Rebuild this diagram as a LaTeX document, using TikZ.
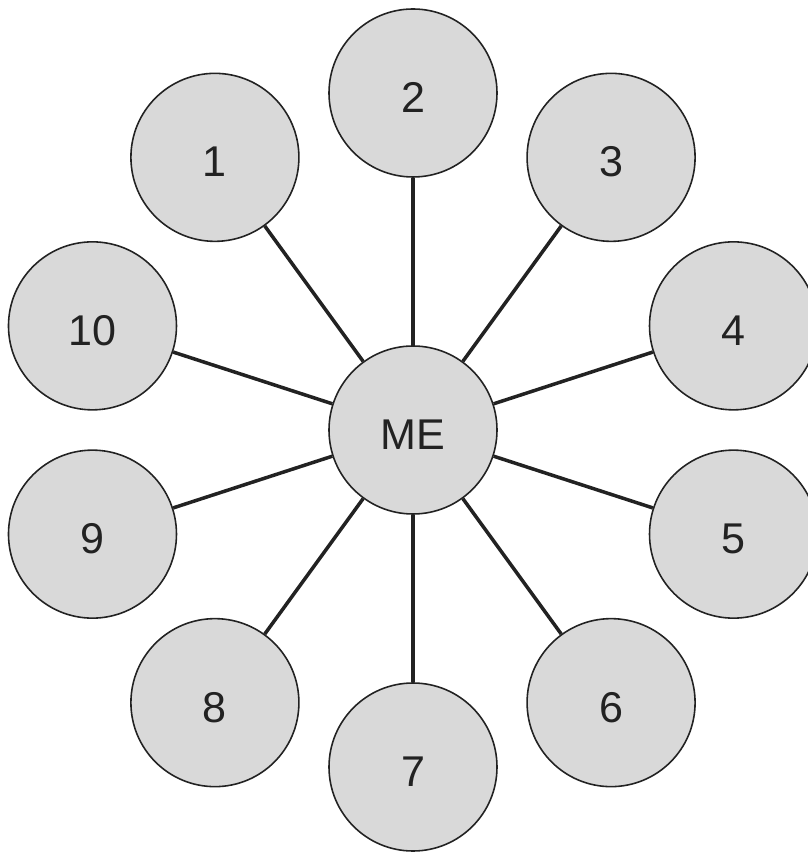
\documentclass[tikz,border=0pt]{standalone}
\usepackage{fontspec}
\setmainfont{Liberation Sans}
\usetikzlibrary{positioning}
\definecolor{ink}{HTML}{222222}
\definecolor{disc}{HTML}{D9D9D9}
\tikzset{
  pal/.style={circle, draw=ink, fill=disc, line width=0.9pt, minimum size=3.36cm,
    inner sep=0pt, text=ink, text height=0.78cm, text depth=0pt,
    font=\fontsize{24.5}{28}\selectfont},
  spoke/.style={line width=2pt, color=ink},
}
\begin{document}
\begin{tikzpicture}
  \useasboundingbox (-8.26,-8.44) rectangle (7.88,8.6);
  \node[pal] (me) at (0,0) {ME};
  % ring of ten, 36 degrees apart
  \foreach \n [count=\i from 0] in {2,1,10,9,8,7,6,5,4,3} {
    \node[pal] (f\n) at (90+36*\i:6.74) {\n};
    \draw[spoke] (me) -- (f\n);
  }
\end{tikzpicture}
\end{document}
